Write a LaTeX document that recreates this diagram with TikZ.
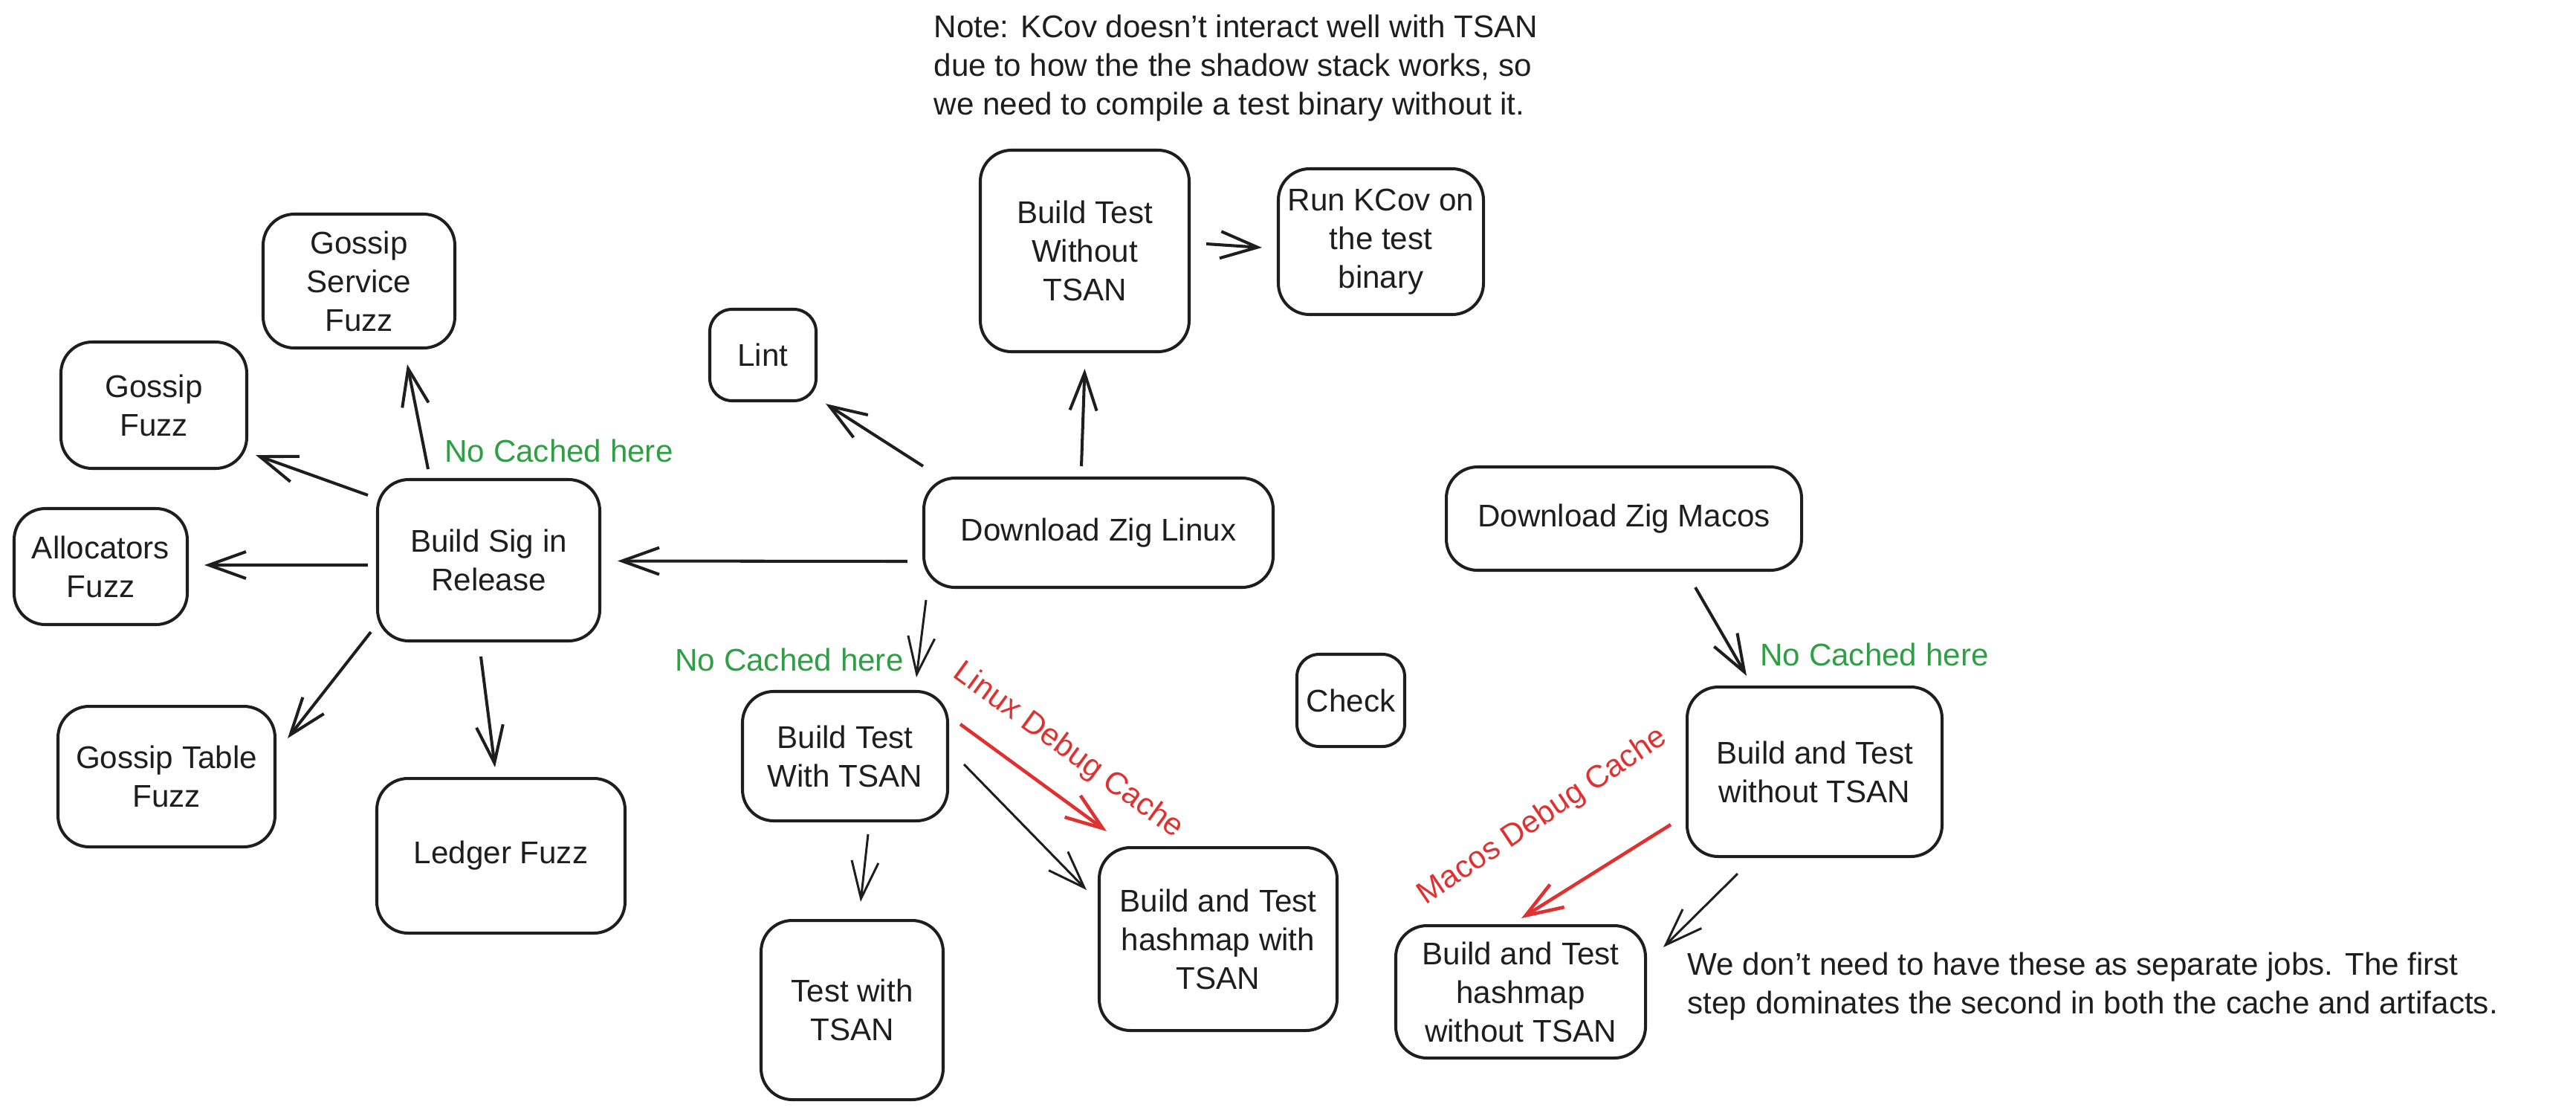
\documentclass[tikz,border=0pt]{standalone}
\usepackage{fontspec}
\setmainfont{Liberation Sans}
\usetikzlibrary{arrows.meta}
\definecolor{ink}{HTML}{1E1E1E}
\definecolor{cachegreen}{HTML}{2F9E44}
\definecolor{cachered}{HTML}{E03131}
\newcommand{\jobfont}{\fontsize{12}{14.8}\selectfont}

\begin{document}
\begin{tikzpicture}[
  job/.style={draw=ink, line width=1.15pt, rounded corners=0.42cm, align=center, inner sep=0pt, font=\jobfont, text=ink},
  smalljob/.style={job, rounded corners=0.3cm},
  arr/.style={draw=ink, line width=1.15pt, -{Straight Barb[length=0.5cm,width=0.36cm]}},
  thinarr/.style={arr, line width=0.85pt},
  redarr/.style={draw=cachered, line width=1.3pt, -{Straight Barb[length=0.5cm,width=0.36cm]}},
  cachelbl/.style={text=cachegreen, font=\jobfont, inner sep=0pt},
  debuglbl/.style={text=cachered, font=\jobfont, inner sep=0pt},
  notelbl/.style={text=ink, font=\jobfont, align=left, inner sep=0pt}
]
\useasboundingbox (0,0) rectangle (34.66,-15);

% fuzz jobs
\node [job, minimum width=2.58cm, minimum height=1.80cm] (gsvc) at (4.83,-3.78) {Gossip\\Service\\Fuzz};
\node [job, minimum width=2.50cm, minimum height=1.70cm] (gfuzz) at (2.07,-5.45) {Gossip\\Fuzz};
\node [job, minimum width=2.33cm, minimum height=1.56cm] (alloc) at (1.355,-7.62) {Allocators\\Fuzz};
\node [job, minimum width=2.99cm, minimum height=2.17cm] (bsig) at (6.575,-7.535) {Build Sig in\\Release};
\node [job, minimum width=2.92cm, minimum height=1.89cm] (gtable) at (2.24,-10.445) {Gossip Table\\Fuzz};
\node [job, minimum width=3.34cm, minimum height=2.08cm] (ledger) at (6.74,-11.51) {Ledger Fuzz};

% linux jobs
\node [smalljob, minimum width=1.43cm, minimum height=1.23cm] (lint) at (10.265,-4.775) {Lint};
\node [job, minimum width=2.81cm, minimum height=2.71cm] (btwo) at (14.595,-3.375) {Build Test\\Without\\TSAN};
\node [job, minimum width=2.76cm, minimum height=1.96cm] (kcov) at (18.58,-3.25) {Run KCov on\\the test\\binary};
\node [job, minimum width=4.70cm, minimum height=1.47cm] (dzl) at (14.78,-7.165) {Download Zig Linux};
\node [job, minimum width=2.76cm, minimum height=1.74cm] (bttsan) at (11.37,-10.17) {Build Test\\With TSAN};
\node [smalljob, minimum width=1.45cm, minimum height=1.24cm] (check) at (18.175,-9.42) {Check};
\node [job, minimum width=2.45cm, minimum height=2.41cm] (testtsan) at (11.465,-13.585) {Test with\\TSAN};
\node [job, minimum width=3.20cm, minimum height=2.46cm] (hmtsan) at (16.39,-12.63) {Build and Test\\hashmap with\\TSAN};

% macos jobs
\node [job, minimum width=4.78cm, minimum height=1.39cm] (dzm) at (21.85,-6.975) {Download Zig Macos};
\node [job, minimum width=3.43cm, minimum height=2.28cm] (batwo) at (24.415,-10.38) {Build and Test\\without TSAN};
\node [job, minimum width=3.36cm, minimum height=1.78cm] (hmwo) at (20.46,-13.34) {Build and Test\\hashmap\\without TSAN};

% notes
\node [notelbl, anchor=west] (kcovnote) at (12.56,-0.92) {Note: KCov doesn't interact well with TSAN\\due to how the the shadow stack works, so\\we need to compile a test binary without it.};
\node [notelbl, anchor=west] (jobsnote) at (22.70,-13.27) {We don't need to have these as separate jobs. The first\\step dominates the second in both the cache and artifacts.};
\node [cachelbl] (nocache1) at (7.52,-6.06) {No Cached here};
\node [cachelbl] (nocache2) at (10.62,-8.87) {No Cached here};
\node [cachelbl] (nocache3) at (25.22,-8.80) {No Cached here};
\node [debuglbl, rotate=-36] (linuxcache) at (14.37,-10.10) {Linux Debug Cache};
\node [debuglbl, rotate=34] (macoscache) at (20.76,-10.98) {Macos Debug Cache};

% release build fans out
\draw [arr] ([shift={(-0.815,0.12)}]bsig.north) -- ([shift={(0.65,-0.20)}]gsvc.south);
\draw [arr] ([shift={(-0.11,0.875)}]bsig.west) -- ([shift={(0.10,0.20)}]gfuzz.south east);
\draw [arr] ([shift={(-0.11,-0.065)}]bsig.west) -- ([shift={(0.21,0.02)}]alloc.east);
\draw [arr] ([shift={(-0.07,0.14)}]bsig.south west) -- ([shift={(0.15,-0.45)}]gtable.north east);
\draw [arr] ([shift={(-0.105,-0.19)}]bsig.south) -- ([shift={(-0.08,0.13)}]ledger.north);

% linux
\draw [arr] ([shift={(-0.20,-0.385)}]dzl.west) -- ([shift={(0.22,-0.01)}]bsig.east);
\draw [arr] ([shift={(0.01,0.14)}]dzl.north west) -- ([shift={(0.11,-0.02)}]lint.south east);
\draw [arr] ([shift={(-0.23,0.14)}]dzl.north) -- ([shift={(0,-0.21)}]btwo.south);
\draw [arr] ([shift={(0.21,0.095)}]btwo.east) -- ([shift={(-0.20,-0.08)}]kcov.west);
\draw [thinarr] ([shift={(0.05,-0.15)}]dzl.south west) -- ([shift={(0.96,0.17)}]bttsan.north);
\draw [thinarr] ([shift={(0.31,-0.16)}]bttsan.south) -- ([shift={(0.115,0.23)}]testtsan.north);
\draw [thinarr] ([shift={(0.20,-0.11)}]bttsan.east) -- ([shift={(-0.15,0.66)}]hmtsan.west);
\draw [redarr] ([shift={(0.15,0.43)}]bttsan.east) -- ([shift={(0.12,0.20)}]hmtsan.north west);

% macos
\draw [arr] ([shift={(0.96,-0.21)}]dzm.south) -- ([shift={(-0.915,0.13)}]batwo.north);
\draw [redarr] ([shift={(-0.20,-0.71)}]batwo.west) -- ([shift={(0.01,0.08)}]hmwo.north);
\draw [thinarr] ([shift={(-1.035,-0.21)}]batwo.south) -- ([shift={(0.22,0.60)}]hmwo.east);

\end{tikzpicture}
\end{document}
